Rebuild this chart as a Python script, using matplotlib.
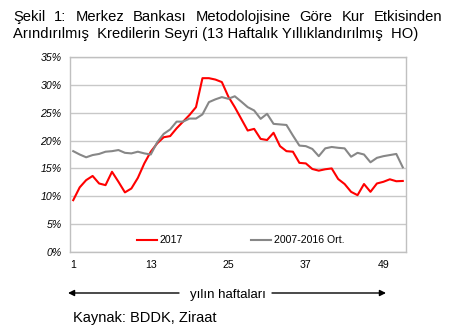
import numpy as np
import matplotlib
matplotlib.use("Agg")
from matplotlib import pyplot as plt

plt.rcParams['font.family'] = ['Liberation Sans', 'DejaVu Sans']

weeks = list(range(1, 53))
red_2017 = [9.3, 11.6, 12.9, 13.65, 12.3, 12.0, 14.4, 12.6, 10.7, 11.4,
            13.3, 15.9, 18.0, 19.5, 20.6, 20.8, 22.2, 23.4, 24.6, 26.0,
            31.2, 31.2, 30.95, 30.5, 27.9, 26.0, 23.9, 21.8, 22.1, 20.3,
            20.1, 21.4, 19.0, 18.1, 18.0, 16.0, 15.9, 14.9, 14.6, 14.85,
            15.0, 13.1, 12.2, 10.8, 10.2, 12.2, 10.8, 12.3, 12.6, 13.05,
            12.7, 12.75]
avg_0716 = [18.1, 17.5, 17.0, 17.4, 17.6, 18.0, 18.1, 18.3, 17.8, 17.7,
            18.0, 17.7, 17.5, 19.7, 21.2, 22.0, 23.4, 23.4, 23.95, 23.95,
            24.7, 26.9, 27.4, 27.8, 27.5, 27.95, 27.0, 26.0, 25.4, 23.9,
            24.8, 23.0, 22.9, 22.8, 20.9, 19.1, 19.0, 18.5, 17.2, 18.6,
            18.85, 18.7, 18.6, 17.1, 17.8, 17.5, 16.1, 16.9, 17.2, 17.4,
            17.6, 15.2]
xticks = [1, 13, 25, 37, 49]
yticks = [0, 5, 10, 15, 20, 25, 30, 35]

title1 = "Şekil 1: Merkez Bankası Metodolojisine Göre Kur Etkisinden"
title2 = "Arındırılmış  Kredilerin Seyri (13 Haftalık Yıllıklandırılmış  HO)"

W, H = 451, 334
fig = plt.figure(figsize=(W / 100, H / 100), dpi=100)
ax = fig.add_axes([70 / W, 1 - 252 / H, 336 / W, 195 / H])

ax.plot(weeks, red_2017, color='#ff0000', lw=1.5, label='2017')
ax.plot(weeks, avg_0716, color='#878787', lw=1.5, label='2007-2016 Ort.')

ax.set_xlim(0.5, 52.5)
ax.set_ylim(0, 35)
ax.set_yticks(yticks)
ax.set_yticklabels([f"{v}%" for v in yticks], fontstyle='italic', fontsize=7.6)
ax.set_xticks(xticks)
ax.set_xticklabels([str(v) for v in xticks], fontsize=7.6)
ax.tick_params(length=0, pad=6)
ax.grid(axis='y', color='#c8c8c8', lw=1)
for s in ax.spines.values():
    s.set_color('#c0c0c0')
    s.set_linewidth(1)

ax.legend(loc='lower center', ncol=2, frameon=False, fontsize=7.6,
          handlelength=1.9, handletextpad=0.25, columnspacing=6.4,
          bbox_to_anchor=(0.508, -0.015))

# first title line spread to full width
renderer = fig.canvas.get_renderer()
words = title1.split(" ")
x0, x1 = 13, 442
arts = [fig.text(0, 0, w, fontsize=10.6) for w in words]
widths = [a.get_window_extent(renderer).width for a in arts]
gap = (x1 - x0 - sum(widths)) / (len(words) - 1)
x = x0
for a, wd in zip(arts, widths):
    a.set_position((x / W, 1 - 21 / H))
    a.set_va('baseline')
    x += wd + gap
fig.text(13 / W, 1 - 38 / H, title2, fontsize=10.6, va='baseline')

# axis caption with arrows
fig.text(228 / W, 1 - 298 / H, "yılın haftaları", fontsize=9.5,
         ha='center', va='baseline')
ax.annotate('', xy=(68 / W, 1 - 293 / H), xytext=(179 / W, 1 - 293 / H),
            xycoords='figure fraction',
            arrowprops=dict(arrowstyle='-|>', color='black', lw=1,
                            mutation_scale=9, shrinkA=0, shrinkB=0))
ax.annotate('', xy=(386 / W, 1 - 293 / H), xytext=(272 / W, 1 - 293 / H),
            xycoords='figure fraction',
            arrowprops=dict(arrowstyle='-|>', color='black', lw=1,
                            mutation_scale=9, shrinkA=0, shrinkB=0))

fig.text(73 / W, 1 - 322 / H, "Kaynak: BDDK, Ziraat", fontsize=10.5,
         va='baseline')

fig.savefig("out.png", dpi=100)
